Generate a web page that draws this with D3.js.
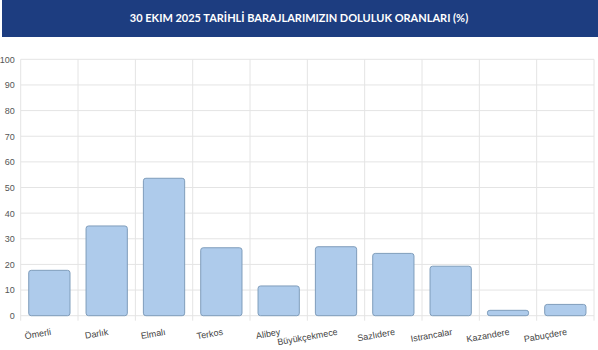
<!DOCTYPE html>
<html>
<head>
<meta charset="utf-8">
<script src="https://cdn.jsdelivr.net/npm/d3@7"></script>
<style>
  body { margin: 0; background: #fff; }
  svg { display: block; }
</style>
</head>
<body>
<svg id="chart"></svg>
<script>
const title = '30 EKIM 2025 TARİHLİ BARAJLARIMIZIN DOLULUK ORANLARI (%)';
const dams = ['Ömerli', 'Darlık', 'Elmalı', 'Terkos', 'Alibey', 'Büyükçekmece', 'Sazlıdere', 'Istrancalar', 'Kazandere', 'Pabuçdere'];
const fillRates = [17.7, 35.0, 53.6, 26.5, 11.6, 26.9, 24.3, 19.3, 2.1, 4.4];
const yTicks = [0, 10, 20, 30, 40, 50, 60, 70, 80, 90, 100];

const width = 598;
const height = 350;
const margin = { top: 59.3, right: 4, bottom: 34.3, left: 20.7 };
const innerWidth = width - margin.left - margin.right;
const innerHeight = height - margin.top - margin.bottom;

const root = d3.select('#chart')
  .attr('width', width)
  .attr('height', height);

// header band
root.append('rect')
  .attr('x', 2)
  .attr('y', 0)
  .attr('width', width - 2)
  .attr('height', 37)
  .attr('fill', '#1d3d80');

root.append('text')
  .attr('x', 299)
  .attr('y', 22)
  .attr('text-anchor', 'middle')
  .attr('fill', '#fff')
  .style('font-family', 'Lato, "Open Sans", sans-serif')
  .style('font-weight', 'bold')
  .style('font-size', '11px')
  .text(title);

const svg = root.append('g')
  .attr('transform', `translate(${margin.left}, ${margin.top})`);

const xScale = d3.scaleBand()
  .domain(dams)
  .range([0, innerWidth])
  .paddingInner(0.28)
  .paddingOuter(0.14);

const yScale = d3.scaleLinear()
  .domain([0, 100])
  .range([innerHeight, 0]);

// horizontal grid
svg.selectAll('.hgrid')
  .data(yTicks)
  .join('line')
  .attr('class', 'hgrid')
  .attr('x1', 0)
  .attr('x2', innerWidth)
  .attr('y1', d => yScale(d))
  .attr('y2', d => yScale(d))
  .attr('stroke', '#e4e4e4')
  .attr('stroke-width', 1);

// vertical grid at band edges
const step = xScale.step();
const edges = d3.range(dams.length + 1).map(i => i * step);
svg.selectAll('.vgrid')
  .data(edges)
  .join('line')
  .attr('class', 'vgrid')
  .attr('x1', d => d)
  .attr('x2', d => d)
  .attr('y1', 0)
  .attr('y2', innerHeight + 5)
  .attr('stroke', '#e4e4e4')
  .attr('stroke-width', 1);

// y axis labels
svg.append('g')
  .call(d3.axisLeft(yScale).tickValues(yTicks).tickSize(0).tickPadding(6))
  .call(g => g.select('.domain').remove())
  .call(g => g.selectAll('text')
    .attr('fill', '#555')
    .style('font-family', '"Liberation Sans", Arial, sans-serif')
    .style('font-size', '9px'));

// bars
svg.selectAll('.bar')
  .data(dams)
  .join('rect')
  .attr('class', 'bar')
  .attr('x', d => xScale(d))
  .attr('y', (d, i) => yScale(fillRates[i]))
  .attr('width', xScale.bandwidth())
  .attr('height', (d, i) => innerHeight - yScale(fillRates[i]))
  .attr('rx', 2.5)
  .attr('fill', '#aecbeb')
  .attr('stroke', '#7f9dbb')
  .attr('stroke-width', 1);

// x labels
svg.selectAll('.xlabel')
  .data(dams)
  .join('text')
  .attr('class', 'xlabel')
  .attr('transform', d => `translate(${xScale(d) + xScale.bandwidth() / 2 + 2}, ${innerHeight + 19}) rotate(-10)`)
  .attr('text-anchor', 'end')
  .attr('fill', '#444')
  .style('font-family', '"Liberation Sans", Arial, sans-serif')
  .style('font-size', '9px')
  .text(d => d);
</script>
</body>
</html>
